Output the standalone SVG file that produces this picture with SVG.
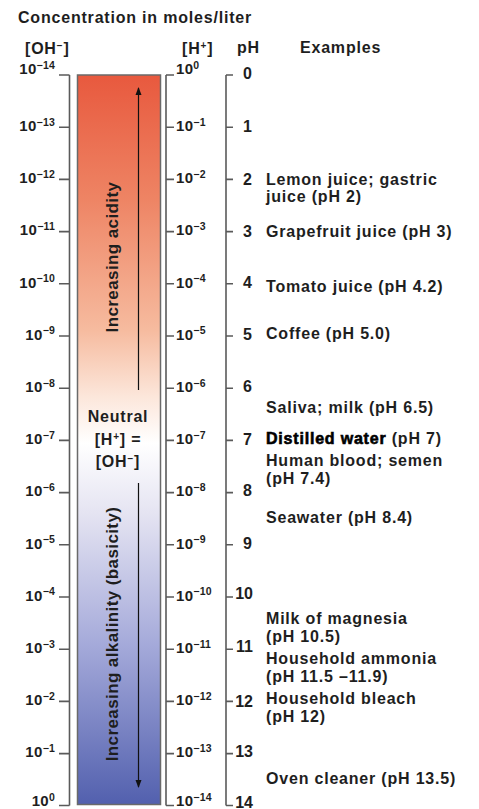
<svg xmlns="http://www.w3.org/2000/svg" width="479" height="809" viewBox="0 0 479 809">
<defs>
<linearGradient id="phgrad" x1="0" y1="0" x2="0" y2="1">
<stop offset="0" stop-color="#e8593e"/>
<stop offset="0.17" stop-color="#ee8464"/>
<stop offset="0.35" stop-color="#f6bb9f"/>
<stop offset="0.44" stop-color="#fce6da"/>
<stop offset="0.505" stop-color="#ffffff"/>
<stop offset="0.6" stop-color="#e5e4f2"/>
<stop offset="0.78" stop-color="#a5aada"/>
<stop offset="1" stop-color="#5260ae"/>
</linearGradient>
<marker id="ah" viewBox="0 0 8 12" refX="7" refY="6" markerWidth="8" markerHeight="12" markerUnits="userSpaceOnUse" orient="auto">
<path d="M0,3 L8,6 L0,9 Z" fill="#111"/>
</marker>
<style>
text{font-family:"Liberation Sans",Arial,sans-serif;font-weight:bold;fill:#1e1e1e}
.t{font-size:16px;letter-spacing:0.8px}
.lab{font-size:15px;letter-spacing:0.3px}
.sup{font-size:10.5px;letter-spacing:0.2px}
.ph{font-size:16px}
.vert{font-size:17px;letter-spacing:0.4px}
.ax{stroke:#5a5a5a;stroke-width:1.6;fill:none}
.arr{stroke:#111;stroke-width:1.2;fill:none}
</style>
</defs>

<g id="title">
<text class="t" x="18" y="23">Concentration in moles/liter</text>
</g>

<g id="headers">
<text class="t" x="25" y="54">[OH<tspan font-size="10" dy="-5">−</tspan><tspan dy="5">]</tspan></text>
<text class="t" x="182" y="54">[H<tspan font-size="10" dy="-5">+</tspan><tspan dy="5">]</tspan></text>
<text class="t" x="237" y="53">pH</text>
<text class="t" x="300" y="53">Examples</text>
</g>

<g id="scale-bar">
<rect x="77.5" y="75" width="83" height="729.5" fill="url(#phgrad)" stroke="#6a6a6a" stroke-width="1.5"/>
<text class="vert" transform="translate(118,257) rotate(-90)" text-anchor="middle">Increasing acidity</text>
<text class="vert" transform="translate(118,634) rotate(-90)" text-anchor="middle">Increasing alkalinity (basicity)</text>
<text class="t" x="118" y="422" text-anchor="middle">Neutral</text>
<text class="t" x="118" y="445" text-anchor="middle">[H<tspan font-size="10" dy="-5">+</tspan><tspan dy="5">] =</tspan></text>
<text class="t" x="118" y="467" text-anchor="middle">[OH<tspan font-size="10" dy="-5">−</tspan><tspan dy="5">]</tspan></text>
</g>

<g id="connectors">
<line class="arr" x1="138.5" y1="390" x2="138.5" y2="88" marker-end="url(#ah)"/>
<line class="arr" x1="138.5" y1="483" x2="138.5" y2="787" marker-end="url(#ah)"/>
</g>

<g id="oh-axis">
<path class="ax" d="M69.5,75 V805.5 M59,75 H69.5 M59,127.2 H69.5 M59,179.4 H69.5 M59,231.6 H69.5 M59,283.8 H69.5 M59,336 H69.5 M59,388.2 H69.5 M59,440.4 H69.5 M59,492.6 H69.5 M59,544.8 H69.5 M59,597 H69.5 M59,649.2 H69.5 M59,701.4 H69.5 M59,753.6 H69.5 M59,805.5 H69.5"/>
<text class="lab" x="55" y="74" text-anchor="end">10<tspan class="sup" dy="-5.5">−14</tspan></text>
<text class="lab" x="55" y="131" text-anchor="end">10<tspan class="sup" dy="-5.5">−13</tspan></text>
<text class="lab" x="55" y="183.2" text-anchor="end">10<tspan class="sup" dy="-5.5">−12</tspan></text>
<text class="lab" x="55" y="235.4" text-anchor="end">10<tspan class="sup" dy="-5.5">−11</tspan></text>
<text class="lab" x="55" y="287.6" text-anchor="end">10<tspan class="sup" dy="-5.5">−10</tspan></text>
<text class="lab" x="55" y="339.8" text-anchor="end">10<tspan class="sup" dy="-5.5">−9</tspan></text>
<text class="lab" x="55" y="392" text-anchor="end">10<tspan class="sup" dy="-5.5">−8</tspan></text>
<text class="lab" x="55" y="444.2" text-anchor="end">10<tspan class="sup" dy="-5.5">−7</tspan></text>
<text class="lab" x="55" y="496.4" text-anchor="end">10<tspan class="sup" dy="-5.5">−6</tspan></text>
<text class="lab" x="55" y="548.6" text-anchor="end">10<tspan class="sup" dy="-5.5">−5</tspan></text>
<text class="lab" x="55" y="600.8" text-anchor="end">10<tspan class="sup" dy="-5.5">−4</tspan></text>
<text class="lab" x="55" y="653" text-anchor="end">10<tspan class="sup" dy="-5.5">−3</tspan></text>
<text class="lab" x="55" y="705.2" text-anchor="end">10<tspan class="sup" dy="-5.5">−2</tspan></text>
<text class="lab" x="55" y="757.4" text-anchor="end">10<tspan class="sup" dy="-5.5">−1</tspan></text>
<text class="lab" x="55" y="806" text-anchor="end">10<tspan class="sup" dy="-5.5">0</tspan></text>
</g>

<g id="h-axis">
<path class="ax" d="M166,75 V805.5 M166,75 H174 M166,127.2 H174 M166,179.4 H174 M166,231.6 H174 M166,283.8 H174 M166,336 H174 M166,388.2 H174 M166,440.4 H174 M166,492.6 H174 M166,544.8 H174 M166,597 H174 M166,649.2 H174 M166,701.4 H174 M166,753.6 H174 M166,805.5 H174"/>
<text class="lab" x="176" y="74">10<tspan class="sup" dy="-5.5">0</tspan></text>
<text class="lab" x="176" y="131">10<tspan class="sup" dy="-5.5">−1</tspan></text>
<text class="lab" x="176" y="183.2">10<tspan class="sup" dy="-5.5">−2</tspan></text>
<text class="lab" x="176" y="235.4">10<tspan class="sup" dy="-5.5">−3</tspan></text>
<text class="lab" x="176" y="287.6">10<tspan class="sup" dy="-5.5">−4</tspan></text>
<text class="lab" x="176" y="339.8">10<tspan class="sup" dy="-5.5">−5</tspan></text>
<text class="lab" x="176" y="392">10<tspan class="sup" dy="-5.5">−6</tspan></text>
<text class="lab" x="176" y="444.2">10<tspan class="sup" dy="-5.5">−7</tspan></text>
<text class="lab" x="176" y="496.4">10<tspan class="sup" dy="-5.5">−8</tspan></text>
<text class="lab" x="176" y="548.6">10<tspan class="sup" dy="-5.5">−9</tspan></text>
<text class="lab" x="176" y="600.8">10<tspan class="sup" dy="-5.5">−10</tspan></text>
<text class="lab" x="176" y="653">10<tspan class="sup" dy="-5.5">−11</tspan></text>
<text class="lab" x="176" y="705.2">10<tspan class="sup" dy="-5.5">−12</tspan></text>
<text class="lab" x="176" y="757.4">10<tspan class="sup" dy="-5.5">−13</tspan></text>
<text class="lab" x="176" y="806">10<tspan class="sup" dy="-5.5">−14</tspan></text>
</g>

<g id="ph-axis">
<path class="ax" d="M226,75 V805.5 M226,75 H233 M226,127.2 H233 M226,179.4 H233 M226,231.6 H233 M226,283.8 H233 M226,336 H233 M226,388.2 H233 M226,440.4 H233 M226,492.6 H233 M226,544.8 H233 M226,597 H233 M226,649.2 H233 M226,701.4 H233 M226,753.6 H233 M226,805.5 H233"/>
<g text-anchor="end">
<text class="ph" x="252" y="78.5">0</text>
<text class="ph" x="252" y="131.5">1</text>
<text class="ph" x="252" y="184.5">2</text>
<text class="ph" x="252" y="236.5">3</text>
<text class="ph" x="252" y="287.5">4</text>
<text class="ph" x="252" y="340">5</text>
<text class="ph" x="252" y="392">6</text>
<text class="ph" x="252" y="444.5">7</text>
<text class="ph" x="252" y="496">8</text>
<text class="ph" x="252" y="548.5">9</text>
<text class="ph" x="253" y="598.5">10</text>
<text class="ph" x="253" y="652">11</text>
<text class="ph" x="253" y="706.5">12</text>
<text class="ph" x="253" y="757">13</text>
<text class="ph" x="253" y="807.5">14</text>
</g>
</g>

<g id="examples">
<text class="t" x="266" y="185">Lemon juice; gastric</text>
<text class="t" x="266" y="201.5">juice (pH 2)</text>
<text class="t" x="266" y="236.5">Grapefruit juice (pH 3)</text>
<text class="t" x="266" y="291.5">Tomato juice (pH 4.2)</text>
<text class="t" x="266" y="339">Coffee (pH 5.0)</text>
<text class="t" x="266" y="413">Saliva; milk (pH 6.5)</text>
<text class="t" x="266" y="444"><tspan fill="#000" stroke="#000" stroke-width="0.6">Distilled water</tspan> (pH 7)</text>
<text class="t" x="266" y="466">Human blood; semen</text>
<text class="t" x="266" y="484">(pH 7.4)</text>
<text class="t" x="266" y="522.5">Seawater (pH 8.4)</text>
<text class="t" x="266" y="623.5">Milk of magnesia</text>
<text class="t" x="266" y="641.5">(pH 10.5)</text>
<text class="t" x="266" y="663.5">Household ammonia</text>
<text class="t" x="266" y="681.5">(pH 11.5 –11.9)</text>
<text class="t" x="266" y="703.5">Household bleach</text>
<text class="t" x="266" y="721.5">(pH 12)</text>
<text class="t" x="266" y="783.5">Oven cleaner (pH 13.5)</text>
</g>
</svg>
